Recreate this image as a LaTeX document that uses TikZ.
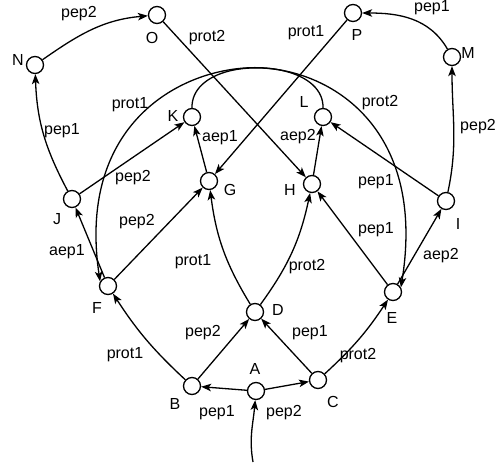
\documentclass[tikz,border=0pt]{standalone}
\usepackage{fontspec}
\setmainfont{Liberation Sans}
\usetikzlibrary{arrows.meta}
\begin{document}
\begin{tikzpicture}[x=1pt,y=-1pt,
  st/.style={circle,draw,line width=1.3pt,minimum size=17pt,inner sep=0pt,fill=white},
  lbl/.style={font=\fontsize{16}{19}\selectfont,inner sep=0pt},
  edge/.style={line width=1.3pt,-{Stealth[length=10pt,width=7.5pt,inset=2.5pt]}}]
\fill[white] (0,0) rectangle (498,465);
\useasboundingbox (0,0) rectangle (498,465);

% states
\node[st] (A) at (256,391) {};
\node[st] (B) at (192,386) {};
\node[st] (C) at (318,380) {};
\node[st] (D) at (255,312) {};
\node[st] (E) at (393,292) {};
\node[st] (F) at (108,286) {};
\node[st] (G) at (209,181) {};
\node[st] (H) at (312,184) {};
\node[st] (I) at (446,201) {};
\node[st] (J) at (72,199) {};
\node[st] (K) at (192,117) {};
\node[st] (L) at (323,117) {};
\node[st] (M) at (452,57) {};
\node[st] (N) at (35,65) {};
\node[st] (O) at (157,15) {};
\node[st] (P) at (353,13) {};

% state names
\node[lbl] (lA) at (255,369) {A};
\node[lbl] (lB) at (175,404) {B};
\node[lbl] (lC) at (333,402) {C};
\node[lbl] (lD) at (278,310) {D};
\node[lbl] (lE) at (392,318) {E};
\node[lbl] (lF) at (97,308) {F};
\node[lbl] (lG) at (230,190) {G};
\node[lbl] (lH) at (290,190) {H};
\node[lbl] (lI) at (458,224) {I};
\node[lbl] (lJ) at (57,219) {J};
\node[lbl] (lK) at (173,116) {K};
\node[lbl] (lL) at (304,102) {L};
\node[lbl] (lM) at (468,53) {M};
\node[lbl] (lN) at (18,60) {N};
\node[lbl] (lO) at (152,38) {O};
\node[lbl] (lP) at (357,35) {P};

% transitions
\coordinate (start) at (253,462);
\draw[edge] (start) to[out=100,in=-95] (A);
\draw[edge] (A) -- (B);
\draw[edge] (A) -- (C);
\draw[edge] (B) -- (D);
\draw[edge] (C) -- (D);
\draw[edge] (B) to[bend left=7] (F);
\draw[edge] (C) to[bend right=7] (E);
\draw[edge] (D) to[bend left=12] (G);
\draw[edge] (D) to[bend right=12] (H);
\draw[edge] (F) -- (G);
\draw[edge] (E) -- (H);
\draw[edge] (F) -- (J);
\draw[edge] (E) -- (I);
\draw[edge] (J) -- (K);
\draw[edge] (I) -- (L);
\draw[edge] (G) -- (K);
\draw[edge] (H) -- (L);
\draw[edge] (J) to[out=118,in=-88] (N);
\draw[edge] (I) to[out=78,in=-90] (M);
\draw[edge] (N) to[out=35,in=185] (O);
\draw[edge] (M) to[out=120,in=0] (P);
\draw[edge] (O) -- (H);
\draw[edge] (P) -- (G);
\draw[edge] (K.north) .. controls (190,35) and (440,45) .. (E.30);
\draw[edge] (L.north) .. controls (325,35) and (65,45) .. (F.150);

% transition labels
\node[lbl] (t1) at (217,413) {pep1};
\node[lbl] (t2) at (284,413) {pep2};
\node[lbl] (t3) at (203,333) {pep2};
\node[lbl] (t4) at (310,333) {pep1};
\node[lbl] (t5) at (125,355) {prot1};
\node[lbl] (t6) at (358,356) {prot2};
\node[lbl] (t7) at (193,262) {prot1};
\node[lbl] (t8) at (307,267) {prot2};
\node[lbl] (t9) at (137,222) {pep2};
\node[lbl] (t10) at (376,230) {pep1};
\node[lbl] (t11) at (67,252) {aep1};
\node[lbl] (t12) at (441,256) {aep2};
\node[lbl] (t13) at (133,178) {pep2};
\node[lbl] (t14) at (376,182) {pep1};
\node[lbl] (t15) at (62,131) {pep1};
\node[lbl] (t16) at (478,127) {pep2};
\node[lbl] (t17) at (220,138) {aep1};
\node[lbl] (t18) at (298,137) {aep2};
\node[lbl] (t19) at (130,105) {prot1};
\node[lbl] (t20) at (380,103) {prot2};
\node[lbl] (t21) at (79,14) {pep2};
\node[lbl] (t22) at (432,8) {pep1};
\node[lbl] (t23) at (207,38) {prot2};
\node[lbl] (t24) at (306,33) {prot1};
\end{tikzpicture}
\end{document}
